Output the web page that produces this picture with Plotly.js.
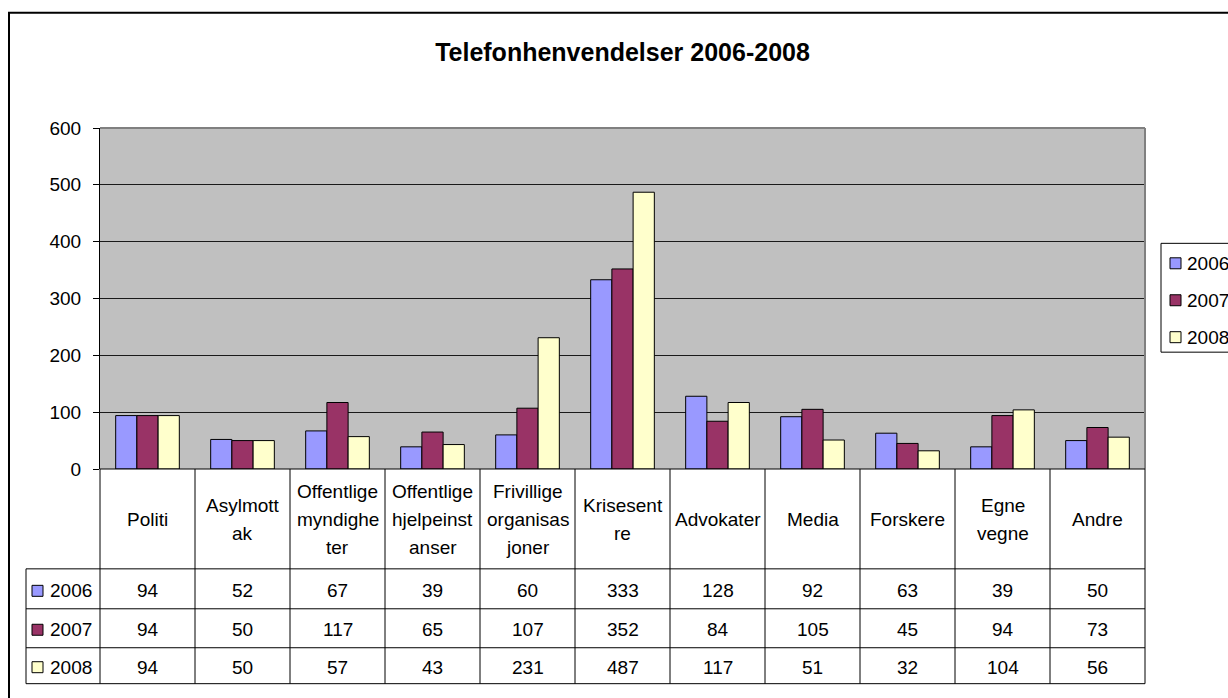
<!DOCTYPE html>
<html>
<head>
<meta charset="utf-8">
<script src="https://cdn.plot.ly/plotly-3.0.1.min.js"></script>
<style>
html,body{margin:0;padding:0;background:#fff;}
#chart{width:1228px;height:698px;}
</style>
</head>
<body>
<div id="chart"></div>
<script>
// ---- data ----
const categories = ["Politi", "Asylmott<br>ak", "Offentlige<br>myndighe<br>ter", "Offentlige<br>hjelpeinst<br>anser",
  "Frivillige<br>organisas<br>joner", "Krisesent<br>re", "Advokater", "Media", "Forskere", "Egne<br>vegne", "Andre"];
const seriesNames = ["2006", "2007", "2008"];
const values2006 = [94, 52, 67, 39, 60, 333, 128, 92, 63, 39, 50];
const values2007 = [94, 50, 117, 65, 107, 352, 84, 105, 45, 94, 73];
const values2008 = [94, 50, 57, 43, 231, 487, 117, 51, 32, 104, 56];
const seriesColors = ["#9999FF", "#993366", "#FFFFCC"];
const yTicks = [0, 100, 200, 300, 400, 500, 600];

const allValues = [values2006, values2007, values2008];

// ---- pixel helpers (plot area: x 100..1145, y 127.5..469) ----
const L = 100, R = 1145, T = 127.5, B = 469;
const px = v => (v - L) / (R - L);
const py = v => (B - v) / (B - T);
const FONT = "Liberation Sans, Arial, sans-serif";

const traces = seriesNames.map((name, i) => ({
  type: "bar",
  name: name,
  x: categories,
  y: allValues[i],
  marker: {color: seriesColors[i], line: {color: "#000", width: 1}},
  hoverinfo: "x+y+name"
}));

const shapes = [];
const annotations = [];
const lineStyle = {color: "#000", width: 1};

// outer chart border
shapes.push({type: "rect", xref: "paper", yref: "paper", x0: px(9), x1: px(1240), y0: py(12), y1: py(712),
  line: {color: "#000", width: 2}, fillcolor: "rgba(0,0,0,0)"});

// plot area border (top + right, gray)
shapes.push({type: "line", xref: "paper", yref: "paper", x0: 0, x1: 1, y0: 1, y1: 1, line: {color: "#808080", width: 2}});
shapes.push({type: "line", xref: "paper", yref: "paper", x0: 1, x1: 1, y0: 0, y1: 1, line: {color: "#808080", width: 2}});

// data table geometry
const colW = (R - L) / categories.length;
const rowLines = [569, 609, 648, 684];
const rowCenters = [591, 630, 667.5];
// vertical lines
for (let k = 0; k <= categories.length; k++) {
  const x = L + k * colW;
  shapes.push({type: "line", xref: "paper", yref: "paper", x0: px(x), x1: px(x), y0: py(B), y1: py(684), line: lineStyle});
}
shapes.push({type: "line", xref: "paper", yref: "paper", x0: px(26), x1: px(26), y0: py(569), y1: py(684), line: lineStyle});
// horizontal lines
shapes.push({type: "line", xref: "paper", yref: "paper", x0: px(L), x1: px(R), y0: py(B), y1: py(B), line: lineStyle});
rowLines.forEach(y => {
  shapes.push({type: "line", xref: "paper", yref: "paper", x0: px(26), x1: px(R), y0: py(y), y1: py(y), line: lineStyle});
});

// category labels (multi-line)
const lineH = 28, catCenter = 520;
categories.forEach((c, j) => {
  const lines = c.split("<br>");
  lines.forEach((t, k) => {
    const y = catCenter + (k - (lines.length - 1) / 2) * lineH;
    annotations.push({xref: "x", yref: "paper", x: c, y: py(y), text: t, showarrow: false,
      xanchor: "center", yanchor: "middle", font: {family: FONT, size: 19, color: "#000"}});
  });
});

// table values + series keys
seriesNames.forEach((name, i) => {
  const yc = rowCenters[i];
  allValues[i].forEach((v, j) => {
    annotations.push({xref: "x", yref: "paper", x: categories[j], y: py(yc), text: String(v), showarrow: false,
      xanchor: "center", yanchor: "middle", font: {family: FONT, size: 19, color: "#000"}});
  });
  shapes.push({type: "rect", xref: "paper", yref: "paper", x0: px(32), x1: px(43), y0: py(yc - 5.5), y1: py(yc + 5.5),
    fillcolor: seriesColors[i], line: {color: "#000", width: 1}});
  annotations.push({xref: "paper", yref: "paper", x: px(48), y: py(yc), text: name, showarrow: false,
    xanchor: "left", yanchor: "middle", font: {family: FONT, size: 19, color: "#000"}});
});

// legend (drawn)
shapes.push({type: "rect", xref: "paper", yref: "paper", x0: px(1161), x1: px(1240), y0: py(243), y1: py(352),
  line: {color: "#000", width: 1}, fillcolor: "#fff"});
const legendY = [263, 300, 337];
seriesNames.forEach((name, i) => {
  const yc = legendY[i];
  shapes.push({type: "rect", xref: "paper", yref: "paper", x0: px(1170), x1: px(1181), y0: py(yc - 5.5), y1: py(yc + 5.5),
    fillcolor: seriesColors[i], line: {color: "#000", width: 1}});
  annotations.push({xref: "paper", yref: "paper", x: px(1185), y: py(yc), text: name, showarrow: false,
    xanchor: "left", yanchor: "middle", font: {family: FONT, size: 19, color: "#000"}});
});

const layout = {
  width: 1228, height: 698,
  margin: {l: L, r: 1228 - R, t: T, b: 698 - B, pad: 0},
  paper_bgcolor: "#fff",
  plot_bgcolor: "#C0C0C0",
  showlegend: false,
  barmode: "group",
  bargap: 0.33,
  bargroupgap: 0,
  title: {text: "Telefonhenvendelser 2006-2008", xref: "paper", x: 0.5, xanchor: "center",
    yref: "container", y: 1 - 52 / 698, yanchor: "middle",
    font: {family: FONT, size: 25, color: "#000", weight: "bold"}},
  xaxis: {type: "category", showticklabels: false, ticks: "", showgrid: false, zeroline: false,
    showline: false, range: [-0.5, categories.length - 0.5], fixedrange: true},
  yaxis: {range: [0, 600], tickvals: yTicks, ticktext: yTicks.map(String), ticks: "outside", ticklen: 6,
    tickcolor: "#000", tickwidth: 1, ticklabelstandoff: 8,
    showgrid: true, gridcolor: "#1a1a1a", gridwidth: 1, zeroline: false,
    showline: true, linecolor: "#000", linewidth: 1,
    tickfont: {family: FONT, size: 19, color: "#000"}, fixedrange: true},
  shapes: shapes,
  annotations: annotations,
  font: {family: FONT}
};

Plotly.newPlot("chart", traces, layout, {displayModeBar: false, staticPlot: true});
</script>
</body>
</html>
